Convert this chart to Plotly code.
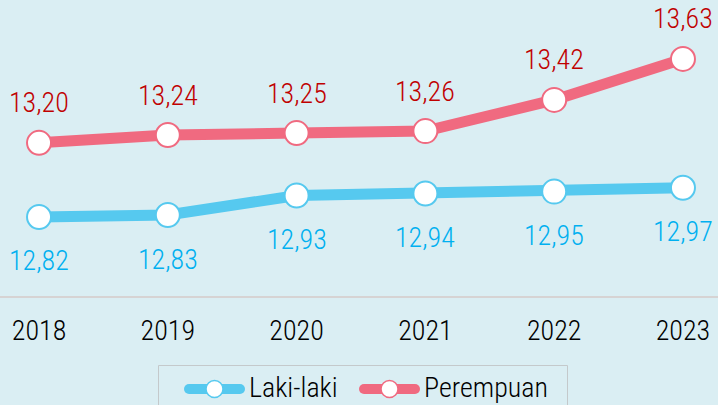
import plotly.graph_objects as go

# Data series
years = [2018, 2019, 2020, 2021, 2022, 2023]
laki_laki = [12.82, 12.83, 12.93, 12.94, 12.95, 12.97]
perempuan = [13.20, 13.24, 13.25, 13.26, 13.42, 13.63]
series_names = ["Laki-laki", "Perempuan"]

FONT = "Liberation Sans Narrow, Arial Narrow, Roboto Condensed, Liberation Sans, sans-serif"
WEIGHT = 350
BG = "#daeef3"
BLUE_LINE = "#56c9ef"
PINK_LINE = "#f06a80"
BLUE_TEXT = "#00b0f0"
RED_TEXT = "#c00000"

W, H = 718, 405
PLOT_BOTTOM = 296  # pixel row of the x axis line


def fmt(v):
    return f"{v:.2f}".replace(".", ",")


def py(pixel_row):
    # pixel row measured from the top of the figure -> paper y
    return (PLOT_BOTTOM - pixel_row) / PLOT_BOTTOM


def px(pixel_col):
    return pixel_col / W


def font(color):
    return dict(family=FONT, size=28, color=color, weight=WEIGHT)


fig = go.Figure()

fig.add_trace(go.Scatter(
    x=years, y=laki_laki, name=series_names[0], mode="lines+markers",
    line=dict(color=BLUE_LINE, width=11),
    marker=dict(size=24, color="white", line=dict(color=BLUE_LINE, width=2)),
    cliponaxis=False, showlegend=False,
))
fig.add_trace(go.Scatter(
    x=years, y=perempuan, name=series_names[1], mode="lines+markers",
    line=dict(color=PINK_LINE, width=11),
    marker=dict(size=24, color="white", line=dict(color=PINK_LINE, width=2)),
    cliponaxis=False, showlegend=False,
))

# Value labels: female above the points, male below
for x, v in zip(years, perempuan):
    fig.add_annotation(x=x, y=v, text=fmt(v), showarrow=False, yshift=40,
                       font=font(RED_TEXT))
for x, v in zip(years, laki_laki):
    fig.add_annotation(x=x, y=v, text=fmt(v), showarrow=False, yshift=-44,
                       font=font(BLUE_TEXT))

# Legend box below the axis
shapes = [dict(type="rect", xref="paper", yref="paper",
               x0=px(158.5), x1=px(567.5), y0=py(365.5), y1=py(430),
               line=dict(color="#c4c9cb", width=1), fillcolor=BG, layer="below")]
legend_y = py(389)
for (x_start, x_end, text_x), name, color in zip(
        [(184, 245, 247), (359, 420, 422)], series_names, [BLUE_LINE, PINK_LINE]):
    shapes.append(dict(type="line", xref="paper", yref="paper",
                       x0=px(x_start + 5), x1=px(x_end - 5), y0=legend_y, y1=legend_y,
                       line=dict(color=color, width=10)))
    for cap in (x_start + 5, x_end - 5):
        shapes.append(dict(type="circle", xref="paper", yref="paper",
                           xsizemode="pixel", ysizemode="pixel",
                           xanchor=px(cap), yanchor=legend_y,
                           x0=-5, x1=5, y0=-5, y1=5,
                           fillcolor=color, line=dict(width=0)))
    mid = (x_start + x_end) / 2
    shapes.append(dict(type="circle", xref="paper", yref="paper",
                       xsizemode="pixel", ysizemode="pixel",
                       xanchor=px(mid), yanchor=legend_y,
                       x0=-8.5, x1=8.5, y0=-8.5, y1=8.5,
                       fillcolor="white", line=dict(color=color, width=1.5)))
    fig.add_annotation(xref="paper", yref="paper", x=px(text_x), y=py(387),
                       xanchor="left", yanchor="middle", text=name, showarrow=False,
                       font=font("black"))

fig.update_layout(
    width=W, height=H,
    margin=dict(l=0, r=0, t=0, b=H - PLOT_BOTTOM, autoexpand=False),
    paper_bgcolor=BG, plot_bgcolor=BG,
    font=font("black"),
    showlegend=False,
    shapes=shapes,
    xaxis=dict(
        range=[2017.697, 2023.272], tickvals=years, ticktext=[str(y) for y in years],
        showgrid=False, zeroline=False, showline=True, linecolor="#d6d3d3", linewidth=2,
        ticks="", ticklabelstandoff=8,
        tickfont=font("black"),
    ),
    yaxis=dict(range=[12.415, 13.932], visible=False, showgrid=False, zeroline=False),
)

fig.write_html("out.html")
